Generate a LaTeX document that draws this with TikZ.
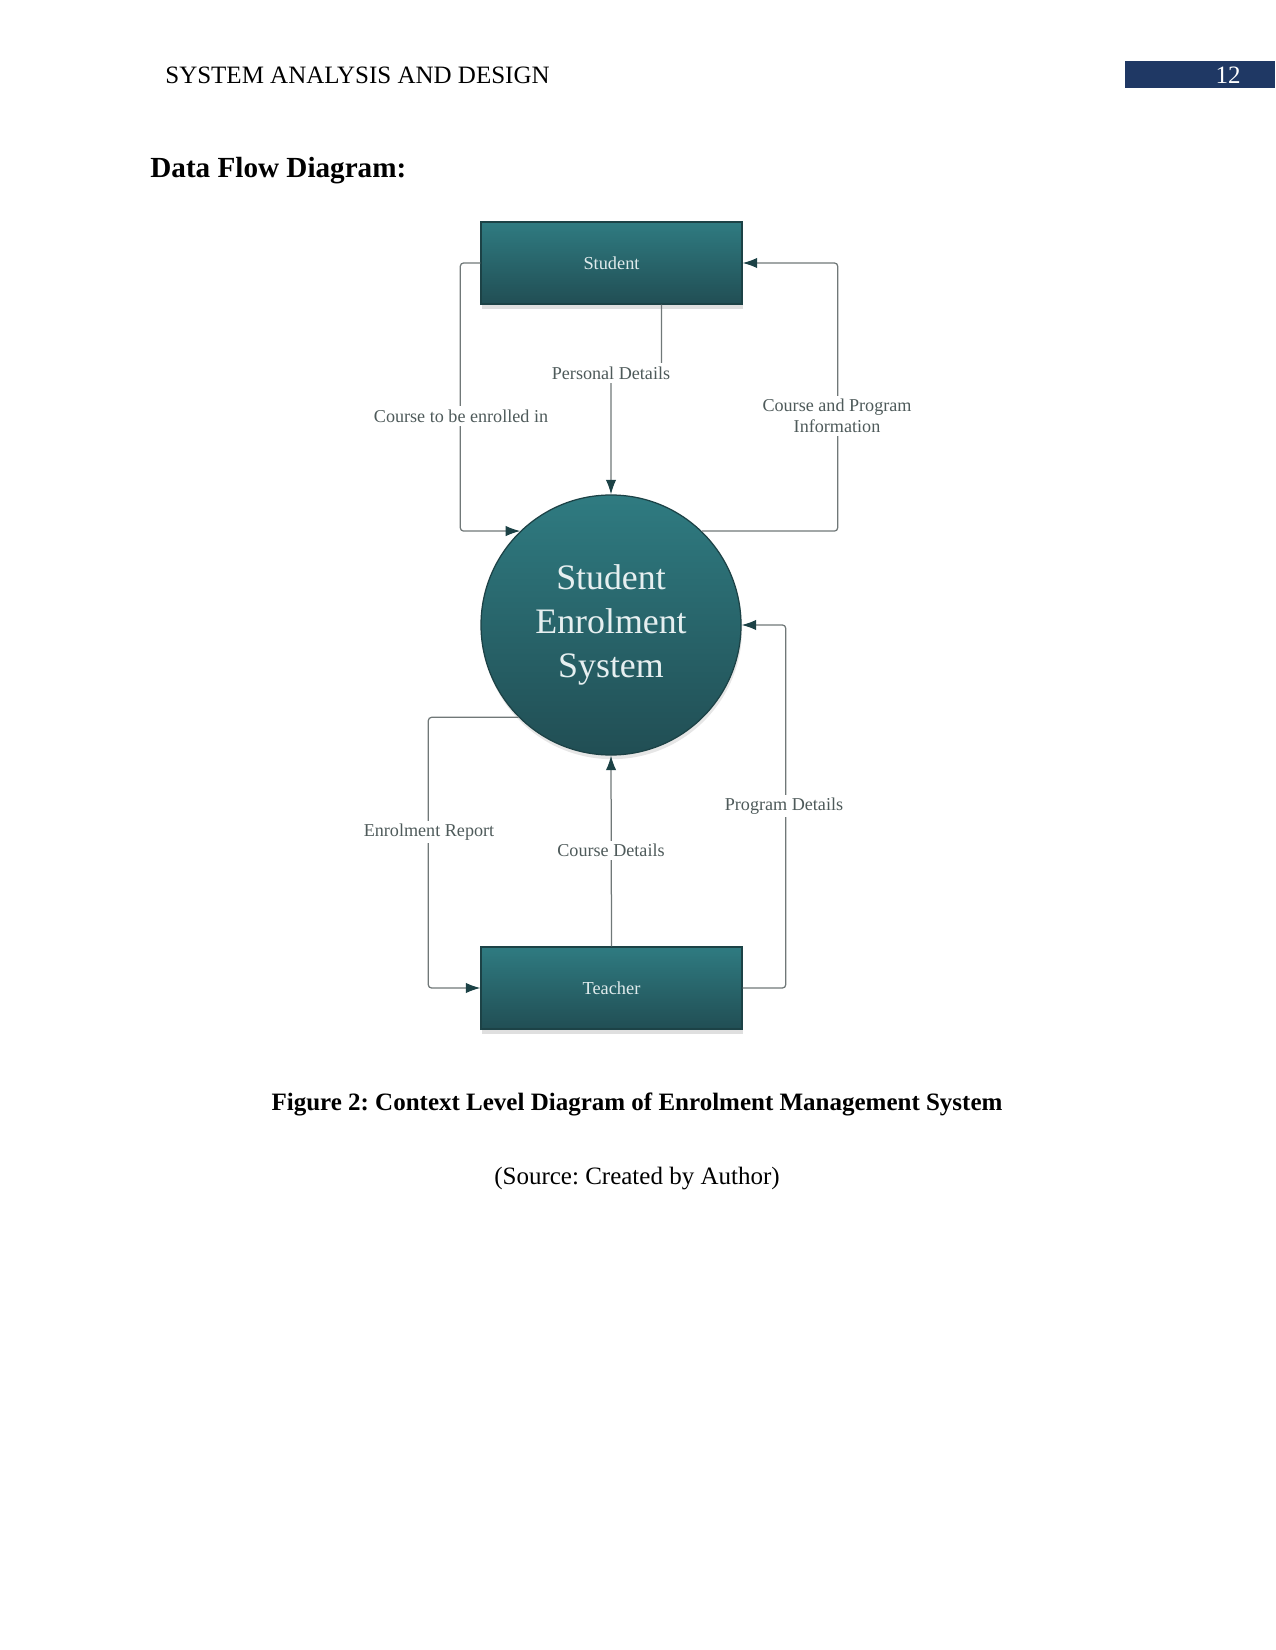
\documentclass[tikz,border=0pt]{standalone}
\usepackage{fontspec}
\setmainfont{Liberation Serif}
\usetikzlibrary{arrows.meta,shadows,calc}

\definecolor{tealtop}{RGB}{47,123,129}
\definecolor{tealbot}{RGB}{33,78,84}
\definecolor{edgecol}{RGB}{28,66,70}
\definecolor{linecol}{RGB}{112,120,120}
\definecolor{labelcol}{RGB}{78,90,90}
\definecolor{navy}{RGB}{31,56,100}

\tikzset{
  entity/.style={draw=edgecol, line width=0.6pt, top color=tealtop, bottom color=tealbot,
    minimum width=125.3pt, minimum height=39.4pt, inner sep=0pt,
    text=white!85!tealtop, font=\fontsize{8.8}{11}\selectfont,
    drop shadow={shadow xshift=0.5pt, shadow yshift=-2.5pt, opacity=0.25}},
  process/.style={circle, draw=edgecol, line width=0.6pt, top color=tealtop, bottom color=tealbot,
    minimum size=124.8pt, inner sep=0pt, align=center,
    text=white!88!tealtop, font=\fontsize{17.2}{21.3}\selectfont,
    drop shadow={shadow xshift=0.5pt, shadow yshift=-2pt, opacity=0.2}},
  flow/.style={draw=linecol, line width=0.6pt, rounded corners=1.5pt,
    -{Latex[length=7pt,width=5pt,color=edgecol]}},
  flowlabel/.style={fill=white, text=labelcol, font=\fontsize{8.7}{10}\selectfont,
    inner sep=1.5pt, align=center},
}

\begin{document}
\frenchspacing
\begin{tikzpicture}[x=0.48pt, y=-0.48pt]
\useasboundingbox (0,0) rectangle (1275,1650);
%%%%%%%%%%%%%%%%%%%%%%%%%%%%%%%%%%%%%
% page header
\begin{scope}
    \node[anchor=west, font=\fontsize{12}{14}\selectfont] (header) at (158,75) {SYSTEM ANALYSIS AND DESIGN};
    \node[fill=navy, minimum width=72pt, minimum height=13pt, inner sep=0pt] (pagebox) at (1200,74.5) {};
    \node[text=white, font=\fontsize{12}{14}\selectfont] (pagenum) at (1228,75) {12};
    \node[anchor=west, font=\fontsize{14}{16}\selectfont\bfseries] (title) at (143,171) {Data Flow Diagram:};
\end{scope}
%%%%%%%%%%%%%%%%%%%%%%%%%%%%%%%%%%%%%
% entities and process
\node[entity] (student) at (611.5,263) {Student};
\node[process] (sys) at (611,625) {Student\\Enrolment\\System};
\node[entity] (teacher) at (611.5,988) {Teacher};
%%%%%%%%%%%%%%%%%%%%%%%%%%%%%%%%%%%%%
% data flows
\draw[flow] (student.west) -- ++(-20,0) |- (sys.134);
\draw[flow] (student.south) ++(50,0) -- ++(0,69) -| (sys.north);
\draw[flow] (sys.46) -| ($(student.east)+(95,0)$) -- (student.east);
\draw[flow] (teacher.north) -- (sys.south);
\draw[flow] (teacher.east) -- ++(43,0) |- (sys.east);
\draw[flow] (sys.225) -| ($(teacher.west)+(-52,0)$) -- (teacher.west);
%\node at (611,700) {};
\node[flowlabel] (lcourse) at (461,416) {Course to be enrolled in};
\node[flowlabel] (lpersonal) at (611,373) {Personal Details};
\node[flowlabel] (linfo) at (837,416) {Course and Program\\Information};
\node[flowlabel] (lcdetails) at (611,850) {Course Details};
\node[flowlabel] (lprogram) at (784,806) {Program Details};
\node[flowlabel] (lreport) at (429,832) {Enrolment Report};
%%%%%%%%%%%%%%%%%%%%%%%%%%%%%%%%%%%%%
% caption
\node[font=\fontsize{12}{14}\selectfont\bfseries] (caption) at (637,1104) {Figure 2: Context Level Diagram of Enrolment Management System};
\node[font=\fontsize{12}{14}\selectfont] (source) at (637,1179) {(Source: Created by Author)};
\end{tikzpicture}
\end{document}
